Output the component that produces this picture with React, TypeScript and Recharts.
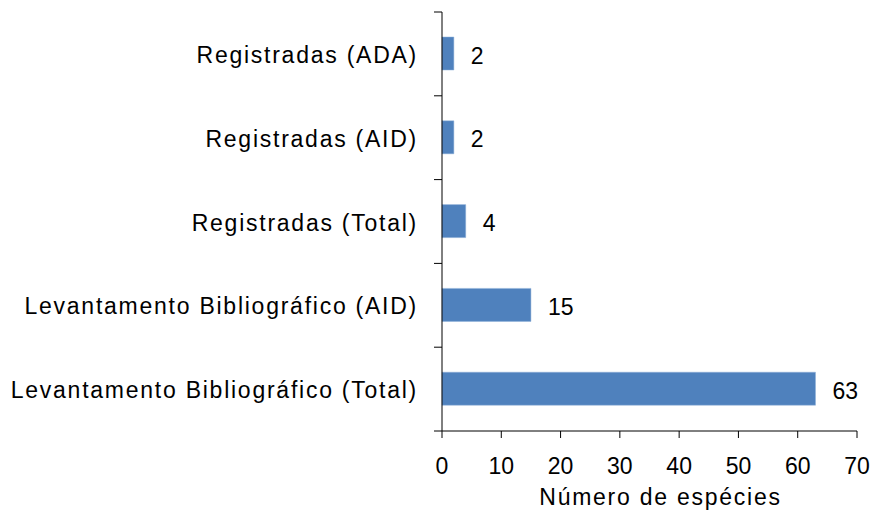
import React from "react";
import { BarChart, Bar, XAxis, YAxis, LabelList } from "recharts";

const categories = [
  "Registradas (ADA)",
  "Registradas (AID)",
  "Registradas (Total)",
  "Levantamento Bibliográfico (AID)",
  "Levantamento Bibliográfico (Total)",
];
const values = [2, 2, 4, 15, 63];
const xTicks = [0, 10, 20, 30, 40, 50, 60, 70];

const data = categories.map((c, i) => ({ name: c, value: values[i] }));

const FONT = "'Liberation Sans', Arial, sans-serif";
const FS = 23;
const W = 877;
const H = 521;
const TOP = 12;
const XAXIS_H = 90;
const BAND = (H - TOP - XAXIS_H) / categories.length;

const CatTick = (props: any) => {
  const { x, y, payload, index } = props;
  const last = index === categories.length - 1;
  return (
    <g>
      <line x1={x} x2={x - 8} y1={y - BAND / 2} y2={y - BAND / 2} stroke="#000" strokeWidth={1} />
      {last && <line x1={x} x2={x - 8} y1={y + BAND / 2} y2={y + BAND / 2} stroke="#000" strokeWidth={1} />}
      <text
        x={x - 24}
        y={y + 1}
        textAnchor="end"
        dominantBaseline="central"
        fontFamily={FONT}
        fontSize={FS}
        letterSpacing={1.75}
        fill="#000"
      >
        {payload.value}
      </text>
    </g>
  );
};

const XTick = (props: any) => {
  const { x, y, payload } = props;
  return (
    <text x={x} y={y + 26} textAnchor="middle" dominantBaseline="central" fontFamily={FONT} fontSize={FS} fill="#000">
      {payload.value}
    </text>
  );
};

const ValueLabel = (props: any) => {
  const { x, y, width, height, value } = props;
  return (
    <text x={x + width + 17} y={y + height / 2 + 2} textAnchor="start" dominantBaseline="central" fontFamily={FONT} fontSize={FS} fill="#000">
      {value}
    </text>
  );
};

const XLabel = (props: any) => {
  const { viewBox } = props;
  return (
    <text
      x={viewBox.x + viewBox.width / 2 + 11}
      y={viewBox.y + 66}
      textAnchor="middle"
      dominantBaseline="central"
      fontFamily={FONT}
      fontSize={FS}
      letterSpacing={1.75}
      fill="#000"
    >
      Número de espécies
    </text>
  );
};

export default function App() {
  return (
    <div style={{ position: "absolute", left: 0, top: 0, background: "#fff" }}>
      <BarChart
        width={W}
        height={H}
        data={data}
        layout="vertical"
        margin={{ top: TOP, right: 20, bottom: 0, left: 0 }}
        barCategoryGap={0}
      >
        <XAxis
          type="number"
          domain={[0, 70]}
          ticks={xTicks}
          interval={0}
          height={XAXIS_H}
          stroke="#000"
          tickSize={7}
          tick={<XTick />}
          label={<XLabel />}
        />
        <YAxis
          type="category"
          dataKey="name"
          width={442}
          axisLine={{ stroke: "#000" }}
          tickLine={false}
          tickSize={0}
          tickMargin={0}
          interval={0}
          tick={<CatTick />}
        />
        <Bar
          dataKey="value"
          fill="#4F81BD"
          stroke="#8fb0d8"
          strokeWidth={0.5}
          barSize={33}
          isAnimationActive={false}
        >
          <LabelList dataKey="value" content={<ValueLabel />} />
        </Bar>
      </BarChart>
    </div>
  );
}
